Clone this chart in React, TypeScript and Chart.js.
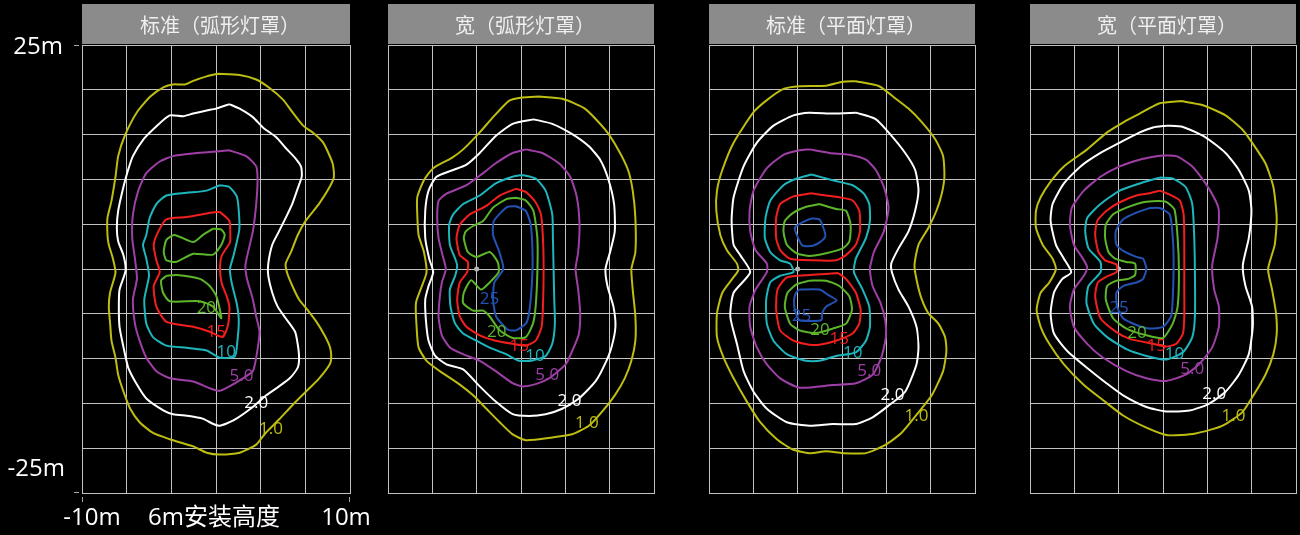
import React, { useEffect, useRef } from 'react';
import { Chart, registerables } from 'chart.js';

Chart.register(...registerables);

// ---------- texts, levels, colours ----------
const PANEL_TITLES = ['标准（弧形灯罩）', '宽（弧形灯罩）', '标准（平面灯罩）', '宽（平面灯罩）'];
const LEVEL_LABELS = ['1.0', '2.0', '5.0', '10', '15', '20', '25'];
const LEVEL_COLORS = ['#bdbd12', '#ffffff', '#9e3fa5', '#1eb5bc', '#f21f1f', '#5db52a', '#2452b4'];
const X_GRID = [-10, -6.667, -3.333, 0, 3.333, 6.667, 10];
const Y_RANGE = [-25, 25];
const Y_STEP = 5;
const Y_TICK_LABELS = ['25m', '-25m'];
const X_TICK_LABELS = ['-10m', '6m安装高度', '10m'];
const LUMINAIRE_POINT = [[-3.333, 0]];

// ---------- panel 1: 标准（弧形灯罩） ----------
const P1_C1 = [[0.15,21.8],[1.76,21.65],[3.0,21.15],[4.0,20.2],[5.0,18.9],[5.7,17.5],[6.5,16.0],[7.2,15.25],[8.0,14.1],[8.7,11.8],[8.8,10.3],[8.5,9.2],[7.7,7.3],[6.7,5.4],[6.1,3.8],[5.6,1.9],[5.2,0.6],[5.3,-0.4],[5.7,-1.9],[6.2,-3.4],[6.8,-4.5],[7.5,-5.9],[8.1,-7.4],[8.5,-8.7],[8.6,-9.7],[8.5,-10.6],[7.7,-12.2],[6.7,-13.7],[5.7,-15.2],[4.7,-16.8],[3.7,-18.3],[3.0,-19.6],[1.76,-20.5],[0.27,-20.7],[-0.7,-20.5],[-1.7,-19.8],[-3.45,-19.0],[-4.7,-18.3],[-5.7,-17.1],[-6.4,-15.6],[-6.9,-13.7],[-7.3,-11.8],[-7.5,-9.9],[-7.8,-8.0],[-7.9,-6.1],[-8.0,-4.2],[-7.9,-2.6],[-7.5,-0.4],[-7.7,1.2],[-8.0,2.7],[-8.1,3.8],[-8.1,5.7],[-7.8,7.6],[-7.5,10.3],[-7.3,12.6],[-6.8,14.9],[-5.9,17.5],[-4.9,19.25],[-3.9,20.3],[-3.2,20.6],[-2.3,20.6],[-1.7,21.0],[-0.7,21.5]];
const P1_C2 = [[1.0,18.4],[1.76,17.9],[2.75,16.95],[3.5,15.8],[4.5,14.7],[5.2,13.5],[5.9,12.4],[6.35,11.4],[6.4,10.3],[6.1,9.0],[5.7,7.3],[5.2,5.7],[4.7,4.2],[4.2,2.7],[3.9,0.6],[3.9,-0.75],[4.2,-2.65],[4.6,-4.2],[5.2,-5.5],[5.9,-7.0],[6.1,-8.4],[6.2,-9.9],[6.1,-11.0],[5.5,-12.2],[4.7,-13.1],[3.75,-14.1],[2.75,-15.4],[1.3,-16.9],[0.27,-17.5],[-0.2,-17.3],[-1.0,-16.7],[-2.0,-16.4],[-3.2,-16.2],[-3.9,-15.8],[-5.2,-14.45],[-5.9,-12.9],[-6.55,-11.0],[-6.9,-8.75],[-7.2,-6.45],[-7.25,-4.2],[-7.2,-2.3],[-6.75,-0.2],[-6.9,1.5],[-7.3,3.1],[-7.4,4.6],[-7.3,6.5],[-6.9,9.2],[-6.55,11.1],[-6.2,12.6],[-5.4,14.5],[-4.4,16.0],[-3.45,17.15],[-2.45,17.05],[-1.7,17.35],[-0.7,17.7],[0.0,17.9]];
const P1_C3 = [[0.97,13.25],[2.25,12.6],[3.0,11.45],[3.1,9.9],[3.0,7.25],[2.75,4.2],[2.2,0.5],[2.3,-1.0],[2.75,-3.4],[3.0,-5.3],[3.25,-7.0],[3.0,-9.9],[2.75,-11.4],[2.0,-12.2],[1.0,-13.1],[0.27,-13.6],[-0.47,-13.3],[-1.7,-12.55],[-3.45,-12.2],[-4.45,-11.4],[-5.2,-9.9],[-5.7,-8.0],[-6.05,-6.1],[-6.2,-3.4],[-5.9,-1.1],[-6.05,1.15],[-6.25,3.45],[-6.2,6.1],[-5.8,8.75],[-5.2,10.7],[-4.2,12.0],[-3.2,12.6],[-1.7,12.9],[-0.47,13.05]];
const P1_C4 = [[0.27,9.35],[1.0,9.15],[1.55,8.1],[1.7,6.5],[1.74,4.4],[1.3,1.45],[1.04,0.0],[1.17,-1.55],[1.54,-3.8],[1.7,-5.7],[1.6,-8.0],[1.4,-9.75],[0.27,-9.9],[-0.7,-9.1],[-2.2,-8.8],[-3.7,-8.55],[-4.7,-7.6],[-5.2,-6.1],[-5.35,-3.4],[-5.0,-0.75],[-5.2,1.15],[-5.45,2.7],[-5.2,3.8],[-4.95,5.7],[-4.45,7.25],[-3.7,8.2],[-2.2,8.5],[-0.7,8.75]];
const P1_C5 = [[0.27,6.4],[1.0,5.35],[1.07,3.45],[1.04,2.95],[0.42,1.45],[0.3,0.0],[0.42,-1.55],[0.8,-3.05],[1.0,-4.2],[0.9,-6.25],[0.5,-7.6],[-0.47,-7.0],[-1.7,-6.45],[-3.7,-5.9],[-4.45,-4.2],[-4.65,-1.9],[-4.2,-0.35],[-4.45,0.97],[-4.65,2.7],[-4.3,4.2],[-3.7,5.55],[-2.2,5.8],[-0.7,6.2]];
const P1_C6A = [[-0.22,4.5],[0.4,4.4],[0.65,3.8],[0.4,2.7],[-0.22,1.6],[-1.7,1.7],[-2.95,0.8],[-3.7,0.97],[-3.9,1.9],[-3.7,3.25],[-3.1,3.8],[-1.7,3.0],[-0.97,3.8]];
const P1_C6B = [[-3.7,-0.75],[-2.95,-0.67],[-1.2,-1.1],[-0.47,-1.9],[0.02,-3.0],[0.4,-5.5],[-0.22,-4.2],[-1.2,-3.6],[-3.45,-3.6],[-3.95,-2.65],[-4.1,-1.3]];
const P1_LABELS = [[4.1,-17.9],[3.0,-15.0],[1.9,-12.0],[0.77,-9.3],[0.02,-7.0],[-0.72,-4.35]];

// ---------- panel 2: 宽（弧形灯罩） ----------
const P2_C1 = [[1.35,19.25],[3.1,19.0],[4.8,17.9],[6.3,15.6],[7.3,13.35],[8.05,11.05],[8.4,8.75],[8.6,5.7],[8.6,1.9],[8.3,0.0],[8.4,-2.3],[8.6,-5.3],[8.6,-8.0],[8.3,-10.25],[7.8,-12.2],[7.05,-14.1],[6.05,-16.0],[5.1,-17.5],[3.85,-18.45],[2.35,-18.8],[0.36,-19.1],[-0.63,-18.45],[-1.6,-17.1],[-2.6,-15.6],[-3.6,-14.1],[-4.6,-12.9],[-6.1,-11.4],[-7.1,-10.25],[-7.7,-8.75],[-7.85,-6.45],[-7.9,-3.8],[-7.45,-1.9],[-7.1,-0.36],[-7.3,1.9],[-7.7,3.8],[-7.8,6.1],[-7.8,8.0],[-7.3,9.9],[-6.6,11.25],[-5.2,12.4],[-4.35,13.35],[-3.1,15.25],[-2.1,16.95],[-0.88,18.8],[0.1,19.15]];
const P2_C2 = [[0.98,16.7],[2.35,16.2],[3.85,15.05],[5.1,13.7],[5.95,12.2],[6.55,10.1],[7.0,7.25],[7.05,4.2],[6.7,1.9],[6.35,0.0],[6.5,-1.9],[6.95,-4.2],[7.1,-6.45],[6.8,-8.75],[6.3,-10.65],[5.6,-12.55],[4.35,-14.45],[3.1,-15.6],[1.85,-16.2],[0.6,-16.4],[-0.63,-16.2],[-1.9,-14.8],[-3.1,-13.1],[-4.35,-11.2],[-5.6,-10.65],[-6.45,-9.7],[-6.95,-8.0],[-7.15,-5.7],[-7.2,-3.4],[-6.95,-1.9],[-6.6,-0.36],[-6.9,1.15],[-7.2,3.45],[-7.2,6.5],[-6.95,8.75],[-6.35,10.3],[-5.1,11.05],[-4.1,11.65],[-3.1,12.95],[-1.9,14.85],[-0.63,16.2]];
const P2_C3 = [[0.36,13.35],[1.6,12.95],[2.85,11.8],[3.7,10.3],[4.2,8.0],[4.4,4.95],[4.3,1.9],[4.1,0.0],[4.3,-2.3],[4.45,-4.95],[4.35,-7.25],[3.85,-9.15],[3.35,-10.65],[2.1,-12.2],[1.1,-12.85],[0.11,-13.1],[-0.63,-12.75],[-1.9,-11.4],[-3.1,-10.25],[-4.35,-9.5],[-5.35,-8.75],[-5.95,-7.4],[-6.2,-5.3],[-6.1,-3.05],[-5.95,-1.5],[-5.65,0.0],[-5.9,1.55],[-6.2,3.45],[-6.3,5.7],[-6.2,7.6],[-5.6,8.4],[-4.1,9.35],[-2.85,10.7],[-1.9,11.8],[-0.63,12.95]];
const P2_C4 = [[0.11,10.5],[1.1,10.1],[1.85,8.75],[2.35,6.1],[2.4,3.45],[2.45,0.0],[2.5,-3.4],[2.55,-6.1],[2.35,-8.35],[1.85,-9.7],[0.86,-10.2],[-0.14,-10.25],[-1.13,-9.5],[-2.4,-8.75],[-3.35,-8.0],[-4.35,-7.2],[-4.95,-6.1],[-5.3,-4.2],[-5.35,-2.3],[-4.95,-0.75],[-4.8,0.4],[-4.95,1.15],[-5.35,2.7],[-5.4,4.95],[-5.1,6.1],[-4.35,7.25],[-3.1,8.2],[-1.9,9.55],[-0.63,10.3]];
const P2_C5 = [[-0.38,8.95],[0.36,8.6],[1.1,7.45],[1.5,6.1],[1.65,3.45],[1.7,0.0],[1.65,-4.2],[1.55,-6.45],[1.1,-8.0],[0.36,-8.55],[-0.63,-8.35],[-1.9,-8.0],[-3.1,-7.4],[-4.1,-6.45],[-4.6,-5.3],[-4.8,-3.4],[-4.6,-1.5],[-4.05,-0.36],[-4.0,0.78],[-4.6,1.55],[-4.85,3.45],[-4.6,4.95],[-3.85,6.1],[-2.6,7.05],[-1.6,8.2]];
const P2_C6 = [[-0.38,7.95],[0.36,7.65],[0.93,6.5],[1.23,3.45],[1.23,-0.36],[1.1,-4.2],[0.9,-6.1],[0.36,-7.6],[-0.63,-7.7],[-1.6,-6.85],[-2.35,-5.3],[-2.85,-4.65],[-3.6,-4.65],[-4.35,-3.8],[-4.3,-2.65],[-3.75,-1.25],[-3.0,-2.3],[-2.35,-1.5],[-1.68,-0.36],[-1.75,0.78],[-2.35,1.9],[-3.35,1.35],[-4.0,1.9],[-4.3,3.45],[-4.15,4.2],[-3.6,4.8],[-2.85,5.35],[-2.1,6.85],[-1.1,7.8]];
const P2_C7 = [[-0.38,7.0],[0.36,6.5],[0.73,4.95],[0.86,2.3],[0.86,-0.36],[0.73,-3.4],[0.56,-5.3],[0.36,-6.1],[-0.38,-6.85],[-1.0,-6.75],[-1.87,-5.3],[-2.1,-3.4],[-2.0,-1.5],[-1.33,0.0],[-1.63,1.9],[-2.1,3.8],[-2.05,5.35],[-1.38,6.5],[-1.0,6.95]];
const P2_LABELS = [[4.95,-17.15],[3.65,-14.75],[1.97,-11.85],[1.05,-9.7],[-0.14,-8.65],[-1.82,-7.0],[-2.37,-3.4]];

// ---------- panel 3: 标准（平面灯罩） ----------
const P3_C1 = [[1.04,20.95],[2.8,20.4],[4.0,19.05],[5.0,17.9],[6.0,16.4],[7.0,14.5],[7.6,12.6],[7.7,10.3],[7.5,8.4],[7.1,6.5],[6.5,4.6],[5.75,2.7],[5.45,0.4],[5.65,-1.5],[6.0,-3.4],[6.5,-4.95],[7.25,-6.1],[7.75,-7.6],[7.85,-9.15],[7.6,-11.4],[6.75,-14.1],[5.75,-16.0],[4.5,-18.25],[3.3,-19.6],[1.8,-20.55],[0.05,-20.55],[-1.2,-20.35],[-2.45,-20.55],[-3.7,-20.15],[-4.9,-19.0],[-6.15,-17.1],[-7.15,-14.8],[-8.15,-12.2],[-8.9,-9.9],[-9.4,-7.6],[-9.4,-4.95],[-9.0,-2.65],[-8.25,-1.1],[-7.8,-0.15],[-7.9,0.6],[-8.65,2.1],[-9.15,3.8],[-9.45,6.5],[-9.4,8.75],[-9.0,11.05],[-8.15,14.1],[-6.65,17.5],[-5.65,18.85],[-4.4,20.1],[-3.2,20.4],[-1.2,20.45],[0.05,20.9]];
const P3_C2 = [[1.04,17.45],[2.5,16.75],[3.5,15.25],[4.75,12.95],[5.5,11.05],[5.75,8.75],[5.5,6.5],[5.0,4.2],[4.25,2.3],[3.7,0.6],[3.75,-0.36],[4.25,-2.3],[5.0,-4.2],[5.6,-6.45],[5.75,-8.75],[5.6,-10.65],[4.75,-13.7],[3.5,-15.25],[2.3,-16.55],[1.04,-17.3],[-0.7,-17.3],[-2.45,-17.5],[-4.15,-17.1],[-5.65,-15.6],[-6.65,-13.7],[-7.4,-11.4],[-7.9,-8.35],[-8.4,-5.3],[-8.15,-2.65],[-6.9,-0.36],[-7.65,1.55],[-8.15,2.7],[-8.3,5.35],[-8.15,8.0],[-7.4,11.45],[-6.4,14.1],[-5.15,16.0],[-3.65,17.15],[-2.45,17.45],[-0.7,17.35]];
const P3_C3 = [[-2.45,13.35],[-0.95,12.95],[0.55,12.75],[1.8,12.2],[2.55,11.05],[3.15,9.15],[3.5,6.85],[3.15,4.2],[2.4,1.9],[2.1,0.0],[2.3,-1.9],[2.9,-3.8],[3.25,-5.7],[3.3,-7.6],[2.95,-9.9],[2.3,-11.8],[1.04,-12.75],[-0.7,-12.95],[-3.2,-13.25],[-4.65,-12.2],[-5.65,-10.65],[-6.4,-8.75],[-6.9,-6.45],[-6.95,-4.2],[-6.5,-2.3],[-5.65,-0.36],[-5.65,0.6],[-6.5,2.1],[-6.9,4.2],[-6.95,6.5],[-6.65,8.75],[-5.65,11.25],[-4.4,12.75],[-3.2,13.25]];
const P3_C4 = [[-2.3,10.55],[-0.7,9.9],[0.8,9.35],[1.65,8.4],[2.05,7.25],[2.1,5.35],[1.8,3.45],[1.04,1.15],[0.9,-0.36],[1.55,-2.3],[2.05,-4.2],[2.1,-6.45],[1.8,-8.0],[1.04,-9.3],[-0.45,-9.7],[-1.7,-10.25],[-2.7,-10.25],[-4.15,-9.5],[-5.15,-8.0],[-5.65,-6.1],[-5.7,-3.4],[-5.4,-1.5],[-4.65,-0.75],[-3.65,-0.36],[-3.9,0.6],[-4.65,0.97],[-5.4,1.9],[-5.8,3.45],[-5.75,5.7],[-5.4,7.6],[-4.4,9.35],[-3.4,10.1]];
const P3_C5A = [[-2.3,8.45],[-1.2,8.2],[-0.2,8.0],[0.8,7.65],[1.3,6.5],[1.35,4.2],[1.04,2.7],[0.3,1.55],[-0.45,0.97],[-2.2,0.97],[-3.9,1.15],[-4.65,2.1],[-4.95,3.45],[-4.95,5.7],[-4.65,7.25],[-3.65,8.1]];
const P3_C5B = [[-0.3,-0.45],[0.3,-1.1],[1.04,-2.65],[1.4,-4.55],[1.3,-6.1],[0.8,-7.2],[-0.45,-8.0],[-1.7,-8.45],[-2.45,-8.45],[-3.65,-8.0],[-4.65,-6.85],[-4.95,-4.55],[-4.85,-2.3],[-4.15,-0.95],[-2.45,-0.67],[-1.2,-0.55]];
const P3_C6A = [[-1.7,7.25],[-0.45,6.7],[0.3,6.5],[0.65,4.95],[0.55,3.05],[0.05,2.3],[-1.2,1.75],[-2.45,1.45],[-3.4,1.75],[-4.15,2.7],[-4.4,4.2],[-4.3,5.35],[-3.65,6.3],[-2.7,6.95]];
const P3_C6B = [[-2.45,-1.3],[-1.2,-1.3],[-0.2,-1.9],[0.55,-3.05],[0.75,-4.55],[0.3,-6.1],[-0.7,-6.65],[-1.95,-7.15],[-3.2,-6.85],[-3.9,-6.1],[-4.3,-4.2],[-4.1,-2.65],[-3.4,-1.7]];
const P3_C7A = [[-2.3,5.65],[-1.7,5.55],[-1.4,4.6],[-1.25,3.65],[-1.65,3.0],[-2.2,2.6],[-2.95,2.6],[-3.3,3.45],[-3.55,4.6],[-3.05,5.15]];
const P3_C7B = [[-3.2,-2.3],[-1.7,-2.3],[-1.07,-2.85],[-0.4,-3.5],[-1.2,-4.2],[-1.5,-4.95],[-1.55,-5.7],[-2.3,-5.8],[-3.2,-5.7],[-3.55,-4.55],[-3.6,-3.4],[-3.45,-2.65]];
const P3_LABELS = [[5.6,-16.45],[3.8,-14.1],[2.05,-11.35],[0.8,-9.4],[-0.2,-7.8],[-1.65,-6.85],[-3.05,-5.3]];

// ---------- panel 4: 宽（平面灯罩） ----------
const P4_C1 = [[1.35,18.75],[2.95,18.3],[4.7,17.15],[5.95,15.6],[6.7,14.1],[7.7,11.8],[8.3,9.15],[8.55,5.7],[8.4,2.7],[7.9,0.0],[8.2,-2.3],[8.5,-4.95],[8.55,-7.25],[8.3,-9.5],[7.7,-11.8],[6.8,-14.1],[5.95,-16.0],[4.45,-17.5],[2.45,-18.35],[0.35,-18.55],[-1.25,-17.7],[-3.0,-16.35],[-4.5,-14.65],[-5.95,-12.95],[-7.45,-10.65],[-8.55,-8.35],[-9.2,-6.45],[-9.5,-4.55],[-9.2,-2.65],[-8.55,-1.5],[-8.05,0.0],[-8.3,1.15],[-9.05,2.7],[-9.55,4.6],[-9.55,6.5],[-9.2,8.0],[-8.45,9.75],[-7.45,11.45],[-5.7,13.35],[-4.2,15.25],[-2.95,16.4],[-2.0,17.15],[-0.25,18.5]];
const P4_C2 = [[0.24,16.0],[1.5,15.85],[3.2,14.7],[4.7,12.95],[5.7,11.05],[6.45,8.75],[6.65,6.5],[6.45,3.45],[6.0,0.4],[6.2,-1.9],[6.7,-4.2],[6.75,-6.45],[6.45,-9.5],[5.7,-11.8],[4.7,-13.7],[3.45,-15.05],[2.0,-15.8],[0.24,-15.9],[-1.25,-15.4],[-3.0,-14.1],[-4.25,-12.75],[-5.7,-11.05],[-7.2,-9.15],[-8.2,-7.2],[-8.45,-4.95],[-8.2,-2.65],[-7.6,-1.15],[-6.9,-0.36],[-7.45,1.15],[-8.05,2.7],[-8.45,5.35],[-8.3,7.25],[-7.45,9.55],[-6.2,11.45],[-4.7,12.95],[-3.25,14.1],[-1.75,15.25],[-0.75,15.8]];
const P4_C3 = [[-0.25,12.65],[1.0,12.6],[2.2,11.45],[3.2,9.55],[3.95,7.65],[4.2,6.5],[4.1,3.45],[3.7,0.4],[3.85,-2.3],[4.2,-4.2],[4.2,-6.45],[3.7,-8.75],[2.7,-10.65],[1.7,-11.8],[0.24,-12.5],[-1.25,-12.2],[-2.75,-11.4],[-4.5,-9.9],[-5.7,-8.35],[-6.7,-6.45],[-7.0,-4.2],[-6.7,-2.3],[-5.95,-0.75],[-5.7,0.2],[-6.1,1.35],[-6.7,2.7],[-7.0,4.95],[-6.85,6.85],[-5.95,8.75],[-4.7,10.3],[-3.25,11.45],[-1.75,12.2]];
const P4_C4 = [[-0.25,10.2],[0.73,10.1],[1.7,9.15],[2.2,7.25],[2.35,3.45],[2.4,-0.36],[2.4,-5.3],[2.2,-7.6],[1.5,-9.3],[0.24,-10.1],[-1.25,-9.7],[-2.75,-8.95],[-4.2,-7.6],[-5.2,-6.1],[-5.75,-3.8],[-5.6,-1.9],[-4.7,-0.36],[-4.7,0.78],[-5.6,2.3],[-5.85,4.2],[-5.7,5.7],[-4.7,7.25],[-3.25,8.75],[-1.75,9.55]];
const P4_C5 = [[-0.25,8.75],[0.36,8.4],[1.25,7.65],[1.55,6.1],[1.6,2.7],[1.6,-2.3],[1.6,-5.3],[1.5,-7.2],[1.0,-8.35],[0.24,-8.65],[-0.75,-8.35],[-2.5,-7.8],[-3.5,-7.05],[-4.7,-5.5],[-5.1,-3.05],[-4.9,-1.5],[-4.25,-0.85],[-3.5,-0.36],[-3.5,0.5],[-4.35,0.97],[-4.85,1.9],[-5.1,3.8],[-4.95,5.35],[-4.25,6.5],[-3.25,7.45],[-2.0,8.2],[-1.0,8.45]];
const P4_C6 = [[-0.5,7.6],[0.24,7.5],[0.86,6.65],[1.1,3.45],[1.2,-0.36],[1.1,-4.2],[0.73,-6.1],[0.0,-7.7],[-1.25,-7.4],[-2.75,-6.65],[-3.75,-5.5],[-4.3,-3.4],[-4.2,-1.9],[-3.5,-1.3],[-2.6,-1.1],[-2.1,-0.67],[-2.1,0.6],[-2.75,0.78],[-3.6,1.15],[-4.1,1.9],[-4.35,3.45],[-4.3,4.95],[-3.75,6.1],[-2.75,6.85],[-1.5,7.45]];
const P4_C7 = [[-1.0,6.8],[-0.25,6.8],[0.5,6.1],[0.7,4.2],[0.8,1.15],[0.73,-3.4],[0.6,-5.3],[0.0,-6.45],[-1.0,-6.65],[-2.0,-6.25],[-3.0,-5.5],[-3.45,-4.2],[-3.5,-2.65],[-3.0,-1.9],[-2.0,-1.5],[-1.5,-1.1],[-1.25,0.0],[-1.5,1.15],[-2.0,1.35],[-2.85,1.9],[-3.5,2.7],[-3.55,4.2],[-3.0,5.55],[-2.0,6.3]];
const P4_LABELS = [[5.3,-16.45],[3.85,-14.0],[2.2,-11.2],[0.86,-9.5],[-0.5,-8.65],[-1.95,-7.15],[-3.3,-4.35]];

// contour tables: [level index, points]
const PANEL_CONTOURS: [number, number[][]][][] = [
  [[0, P1_C1], [1, P1_C2], [2, P1_C3], [3, P1_C4], [4, P1_C5], [5, P1_C6A], [5, P1_C6B]],
  [[0, P2_C1], [1, P2_C2], [2, P2_C3], [3, P2_C4], [4, P2_C5], [5, P2_C6], [6, P2_C7]],
  [[0, P3_C1], [1, P3_C2], [2, P3_C3], [3, P3_C4], [4, P3_C5A], [4, P3_C5B], [5, P3_C6A], [5, P3_C6B], [6, P3_C7A], [6, P3_C7B]],
  [[0, P4_C1], [1, P4_C2], [2, P4_C3], [3, P4_C4], [4, P4_C5], [5, P4_C6], [6, P4_C7]],
];
const PANEL_LABELS = [P1_LABELS, P2_LABELS, P3_LABELS, P4_LABELS];

// ---------- layout / style ----------
const PANEL_LEFT = [82, 388, 709, 1030];
const PLOT_W = 268;
const PAD_TOP = 45;
const PAD_BOTTOM = 42;
const GRID_COLOR = '#c2c2c2';
const LATIN_FONT = '"Open Sans", "Noto Sans CJK SC", sans-serif';
const TITLE_FONT = '"Noto Sans CJK TC", "Noto Sans CJK SC", sans-serif';

function Panel({ index }: { index: number }) {
  const ref = useRef<HTMLCanvasElement | null>(null);
  const padL = index === 0 ? 82 : 6;
  const padR = index === 0 ? 30 : 2;
  const width = padL + PLOT_W + padR;

  useEffect(() => {
    if (!ref.current) return;
    const datasets: any[] = PANEL_CONTOURS[index].map(([lvl, pts]) => {
      const data = pts.map(([x, y]) => ({ x, y }));
      data.push({ x: pts[0][0], y: pts[0][1] });
      return {
        data,
        showLine: true,
        borderColor: LEVEL_COLORS[lvl],
        borderWidth: 2,
        pointRadius: 0,
        tension: 0.2,
        fill: false,
      };
    });
    if (index > 0) {
      datasets.push({
        data: LUMINAIRE_POINT.map(([x, y]) => ({ x, y })),
        showLine: false,
        pointRadius: 2.5,
        pointBackgroundColor: '#b4b4b4',
        pointBorderWidth: 0,
      });
    }

    const decor = {
      id: 'decor' + index,
      beforeDraw(chart: any) {
        const { ctx, chartArea } = chart;
        ctx.save();
        ctx.fillStyle = '#000';
        ctx.fillRect(0, 0, chart.width, chart.height);
        ctx.fillStyle = '#8b8b8b';
        ctx.fillRect(chartArea.left, 4, chartArea.right - chartArea.left, 40);
        ctx.fillStyle = '#efefef';
        ctx.font = `20px ${TITLE_FONT}`;
        ctx.textAlign = 'center';
        ctx.textBaseline = 'middle';
        ctx.fillText(PANEL_TITLES[index], (chartArea.left + chartArea.right) / 2 + 4, 25);
        ctx.restore();
      },
      afterDatasetsDraw(chart: any) {
        const { ctx } = chart;
        const xs = chart.scales.x;
        const ys = chart.scales.y;
        ctx.save();
        ctx.font = `17px ${LATIN_FONT}`;
        ctx.textAlign = 'center';
        ctx.textBaseline = 'middle';
        PANEL_LABELS[index].forEach(([x, y], i) => {
          ctx.fillStyle = LEVEL_COLORS[i];
          ctx.fillText(LEVEL_LABELS[i], xs.getPixelForValue(x), ys.getPixelForValue(y));
        });
        ctx.restore();
      },
      afterDraw(chart: any) {
        if (index !== 0) return;
        const { ctx } = chart;
        const xs = chart.scales.x;
        const ys = chart.scales.y;
        const top = ys.getPixelForValue(Y_RANGE[1]);
        const bottom = ys.getPixelForValue(Y_RANGE[0]);
        const left = xs.getPixelForValue(-10);
        const right = xs.getPixelForValue(10);
        ctx.save();
        ctx.strokeStyle = '#a8a8a8';
        ctx.lineWidth = 1;
        ctx.beginPath();
        ctx.moveTo(left - 8, Math.round(top) + 0.5); ctx.lineTo(left - 3, Math.round(top) + 0.5);
        ctx.moveTo(left - 8, Math.round(bottom) - 0.5); ctx.lineTo(left - 3, Math.round(bottom) - 0.5);
        ctx.moveTo(Math.round(left) + 0.5, bottom + 4); ctx.lineTo(Math.round(left) + 0.5, bottom + 9);
        ctx.moveTo(Math.round(right) - 0.5, bottom + 4); ctx.lineTo(Math.round(right) - 0.5, bottom + 9);
        ctx.stroke();
        ctx.fillStyle = '#ffffff';
        ctx.font = `24px ${LATIN_FONT}`;
        ctx.textBaseline = 'middle';
        ctx.textAlign = 'right';
        ctx.fillText(Y_TICK_LABELS[0], left - 19, top + 2);
        ctx.fillText(Y_TICK_LABELS[1], left - 17, bottom - 24);
        ctx.textAlign = 'center';
        ctx.fillText(X_TICK_LABELS[0], left + 10, bottom + 25);
        ctx.fillText(X_TICK_LABELS[1], (left + right) / 2 - 2, bottom + 25);
        ctx.fillText(X_TICK_LABELS[2], right - 4, bottom + 25);
        ctx.restore();
      },
    };

    const chart = new Chart(ref.current, {
      type: 'scatter',
      data: { datasets },
      options: {
        animation: false,
        responsive: true,
        maintainAspectRatio: false,
        events: [],
        layout: { padding: { left: padL, right: padR, top: PAD_TOP, bottom: PAD_BOTTOM } },
        plugins: { legend: { display: false }, tooltip: { enabled: false }, title: { display: false } },
        scales: {
          x: {
            type: 'linear',
            min: X_GRID[0],
            max: X_GRID[X_GRID.length - 1],
            afterBuildTicks: (s: any) => { s.ticks = X_GRID.map((v) => ({ value: v })); },
            afterFit: (s: any) => { s.height = 0; s.paddingLeft = 0; s.paddingRight = 0; },
            ticks: { display: false },
            grid: { color: GRID_COLOR, lineWidth: 1, drawTicks: false },
            border: { color: GRID_COLOR, width: 1 },
          },
          y: {
            type: 'linear',
            min: Y_RANGE[0],
            max: Y_RANGE[1],
            ticks: { display: false, stepSize: Y_STEP },
            afterFit: (s: any) => { s.width = 0; s.paddingTop = 0; s.paddingBottom = 0; },
            grid: { color: GRID_COLOR, lineWidth: 1, drawTicks: false },
            border: { color: GRID_COLOR, width: 1 },
          },
        },
      } as any,
      plugins: [decor],
    });
    return () => chart.destroy();
  }, [index]);

  return (
    <div style={{ position: 'absolute', left: PANEL_LEFT[index] - padL, top: 0, width, height: 535 }}>
      <canvas ref={ref} />
    </div>
  );
}

export default function App() {
  return (
    <div style={{ position: 'fixed', left: 0, top: 0, width: 1300, height: 535, background: '#000', overflow: 'hidden' }}>
      {[0, 1, 2, 3].map((i) => (
        <Panel key={i} index={i} />
      ))}
    </div>
  );
}
